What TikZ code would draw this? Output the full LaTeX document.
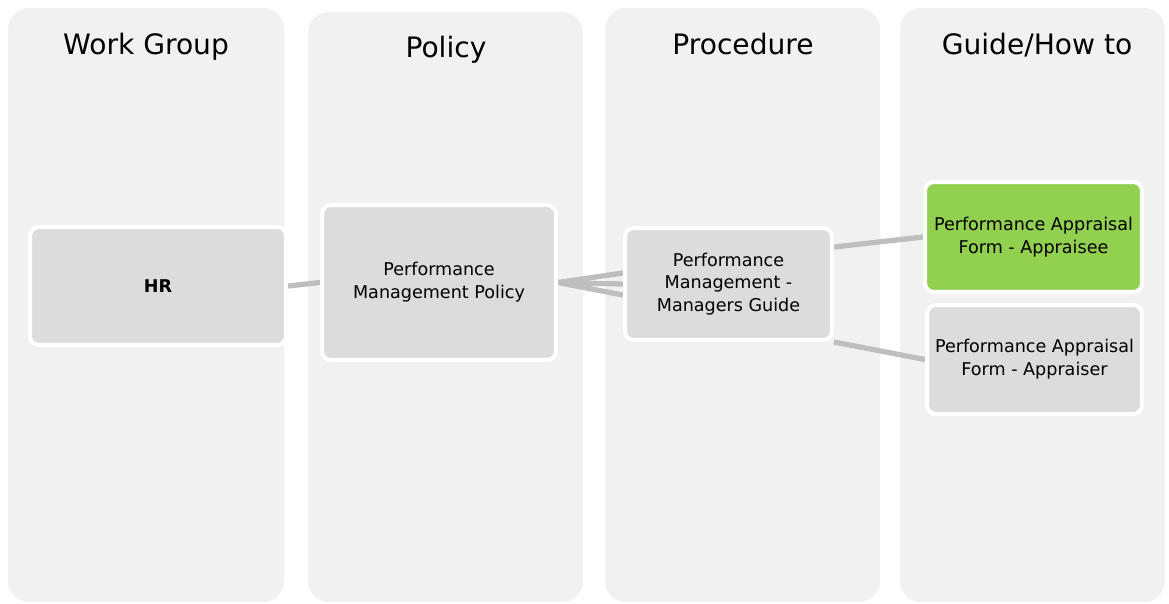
\documentclass[tikz,border=0pt]{standalone}
\usepackage{fontspec}
\setmainfont{DejaVu Sans}
\usetikzlibrary{
	calc,
	positioning,
	backgrounds,
}

\definecolor{lanegray}{HTML}{F1F1F1}
\definecolor{boxgray}{HTML}{DCDCDC}
\definecolor{linkgray}{HTML}{BEBEBE}
\definecolor{appgreen}{HTML}{92D050}

\pgfdeclarelayer{lanes}
\pgfdeclarelayer{links}
\pgfsetlayers{lanes,links,main}

\tikzset{
	lane/.style={fill=lanegray, rounded corners=12pt},
	title/.style={anchor=base, font=\fontsize{16}{19}\selectfont},
	doc/.style={draw=white, line width=2.3pt, fill=boxgray, rounded corners=5pt,
		align=center, inner sep=2pt, font=\fontsize{10}{13}\selectfont},
	link/.style={draw=linkgray, line width=3pt},
}

\begin{document}
\begin{tikzpicture}[x=0.02cm, y=-0.02cm]
\useasboundingbox (0,0) rectangle (1169,603);
% columns
\begin{pgfonlayer}{lanes}
	\fill[lane] (8,8) rectangle (284,602);
	\fill[lane] (308,12) rectangle (583,602);
	\fill[lane] (605,8) rectangle (880,602);
	\fill[lane] (900,8) rectangle (1165,602);
\end{pgfonlayer}
\node[title] (twg) at (146,54) {Work Group};
\node[title] (tpol) at (446,57) {Policy};
\node[title] (tproc) at (743,54) {Procedure};
\node[title] (tguide) at (1037,54) {Guide/How to};
% documents
\node[doc, minimum width=5.12cm, minimum height=2.36cm] (hr) at (158,286) {\textbf{HR}};
\node[doc, minimum width=4.68cm, minimum height=3.1cm] (pol) at (439,282.5) {Performance\\Management Policy};
\node[doc, minimum width=4.14cm, minimum height=2.24cm] (proc) at (728.5,284) {Performance\\Management -\\Managers Guide};
\node[doc, fill=appgreen, minimum width=4.34cm, minimum height=2.2cm] (ee) at (1033.5,237) {Performance Appraisal\\Form - Appraisee};
\node[doc, minimum width=4.3cm, minimum height=2.18cm] (er) at (1034.5,359.5) {Performance Appraisal\\Form - Appraiser};
% links
\begin{pgfonlayer}{links}
	\path[link] (hr.east) -- (pol.west);
	\foreach \dy in {-11,0,11}
		\path[link] (pol.east) -- ($(proc.west)+(0,\dy)$);
	\path[link] ($(proc.east)+(0,-37)$) -- (ee.west);
	\path[link] (proc.south east) -- (er.west);
\end{pgfonlayer}
\end{tikzpicture}
\end{document}
